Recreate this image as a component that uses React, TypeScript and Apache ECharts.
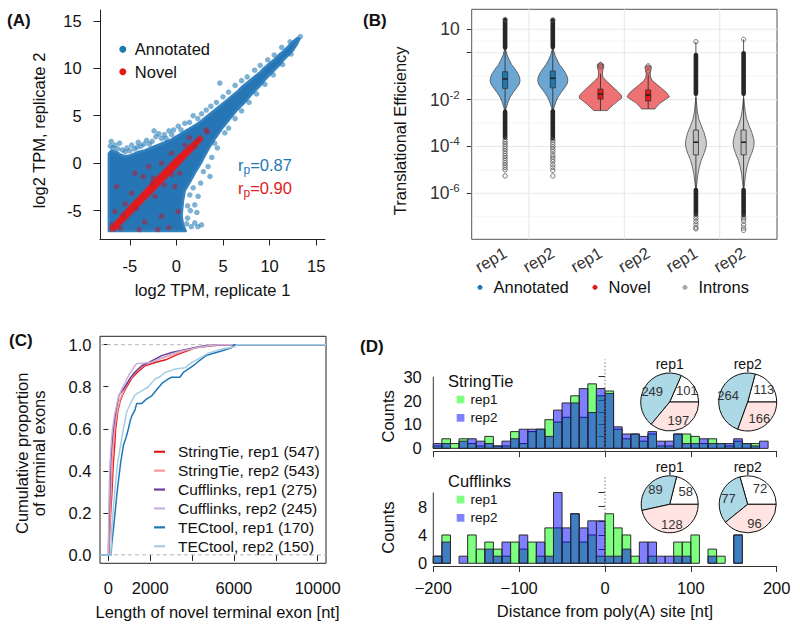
import React, { useEffect, useRef } from "react";
import * as echarts from "echarts";

const FONT = "'Liberation Sans', Arial, Helvetica, sans-serif";

// ================= Panel A : replicate scatter =================
const ticksA = [-5, 0, 5, 10, 15];
// outline of the dense cloud of annotated transcripts (log2 TPM rep1, rep2)
const annotatedCloud = [
  [-7.25, -7.15], [-7.25, 1.0], [-7.0, 1.3], [-6.5, 1.2], [-6.0, 0.9], [-5.5, 0.7], [-5.0, 0.8], [-4.5, 1.0],
  [-4.0, 1.2], [-3.5, 1.3], [-3.0, 1.5], [-2.5, 1.7], [-2.0, 1.9], [-1.5, 2.1], [-1.0, 2.3], [-0.5, 2.5],
  [0.0, 2.8], [0.5, 3.1], [1.0, 3.4], [1.5, 3.7], [2.0, 4.0], [2.5, 4.3], [3.0, 4.7], [3.5, 5.1], [4.0, 5.5],
  [4.5, 5.9], [5.0, 6.3], [5.5, 6.7], [6.0, 7.1], [6.5, 7.5], [7.0, 8.0], [7.5, 8.4], [8.0, 8.8], [8.5, 9.2],
  [9.0, 9.6], [9.5, 10.1], [10.0, 10.5], [10.5, 10.9], [11.0, 11.4], [11.5, 11.8], [12.0, 12.3], [12.5, 12.8],
  [13.0, 13.2], [13.2, 13.1], [12.9, 12.5], [12.5, 11.9], [12.0, 11.4], [11.5, 10.9], [11.0, 10.3], [10.5, 9.8],
  [10.0, 9.3], [9.5, 8.8], [9.0, 8.2], [8.5, 7.7], [8.0, 7.2], [7.5, 6.6], [7.0, 6.1], [6.5, 5.6], [6.0, 5.0],
  [5.5, 4.4], [5.0, 3.8], [4.5, 3.1], [4.0, 2.4], [3.5, 1.6], [3.0, 0.7], [2.5, -0.2], [2.0, -1.0], [1.5, -1.9],
  [0.9, -2.9], [0.7, -4.0], [0.55, -5.5], [0.7, -6.5], [1.0, -7.15],
];
// individual annotated transcripts outside the dense cloud
const annotatedPoints = [
  [-7.1, 1.8], [-7.0, 2.3], [-6.8, 1.6], [-6.6, 1.9], [-6.3, 1.5], [-6.1, 2.1], [-5.8, 1.4], [-5.5, 1.2],
  [-5.3, 1.6], [-5.0, 1.3], [-4.8, 1.9], [-4.5, 1.5], [-4.2, 1.7], [-4.1, 2.2], [-3.8, 1.8], [-3.5, 2.0],
  [-3.2, 2.4], [-2.9, 2.0], [-2.6, 2.3], [-2.4, 3.4], [-2.2, 2.8], [-1.9, 3.1], [-1.6, 2.6], [-1.3, 3.0],
  [-1.1, 2.6], [-0.8, 3.4], [-0.5, 3.0], [-0.3, 3.5], [0.2, 3.9], [0.5, 3.5], [0.9, 4.2], [1.4, 4.3],
  [1.8, 5.0], [2.3, 4.7], [2.7, 5.2], [3.2, 5.6], [3.7, 6.0], [4.3, 6.4], [4.66, 8.44], [5.0, 7.0],
  [5.6, 7.5], [6.3, 8.2], [7.0, 8.7], [7.6, 9.1], [8.4, 9.8], [9.0, 10.3], [9.8, 10.9], [10.5, 11.4],
  [11.3, 12.2], [12.2, 12.8], [13.3, 13.35], [12.3, 11.5], [11.4, 10.4], [10.4, 9.3], [9.5, 8.3], [8.6, 7.3],
  [7.8, 6.4], [7.0, 5.5], [6.3, 4.7], [5.6, 3.7], [5.2, 3.2], [4.4, 1.6], [4.1, 2.1], [3.8, 0.6],
  [3.4, -0.36], [3.6, -1.4], [2.9, -0.9], [2.6, -2.1], [2.33, -3.5], [1.44, -3.35], [1.97, -4.4], [1.5, -5.0],
  [2.2, -5.2], [1.2, -5.8], [1.97, -6.3], [2.7, -6.5], [2.3, -6.7], [1.6, -6.7], [1.2, -4.5], [1.8, -2.6],
  [1.1, -6.4],
];
// outline of the dense diagonal band of novel transcripts
const novelBand = [
  [-7.1, -6.8], [-6.0, -5.6], [-5.0, -4.5], [-4.0, -3.5], [-3.0, -2.45], [-2.0, -1.4], [-1.0, -0.4],
  [0.0, 0.6], [1.0, 1.5], [2.0, 2.4], [2.6, 2.9], [2.8, 2.5], [2.0, 1.6], [1.0, 0.6], [0.0, -0.5],
  [-1.0, -1.5], [-2.0, -2.5], [-3.0, -3.5], [-4.0, -4.5], [-5.0, -5.5], [-6.0, -6.5], [-6.6, -7.1], [-7.1, -7.1],
];
const novelPoints = [
  [-6.43, -2.47], [-6.6, -5.1], [-4.82, -3.16], [-4.46, -1.05], [-3.57, -1.41], [-2.5, -1.58], [-3.0, -0.36],
  [-5.72, -5.45], [-1.6, 0.0], [-0.53, 1.05], [0.18, -5.1], [-1.6, -5.6], [-3.4, -6.2], [1.97, 1.75],
  [2.3, 2.46], [3.2, 3.5], [3.3, 3.3], [-0.17, -2.47], [0.36, -1.05], [-2.3, -3.5], [-5.5, -4.3],
  [-6.0, -6.9], [-4.0, -7.0], [-2.0, -7.0], [-0.8, -6.8], [1.4, 2.7], [0.9, 1.9], [-0.5, -1.2],
  [-1.3, -2.3], [-4.3, -4.8], [-2.6, -2.1], [-6.9, -6.5],
];
const pearsonAnnotated = "0.87";
const pearsonNovel = "0.90";

// ================= Panel B : translational efficiency violins =================
const violinGroups = ["Annotated", "Novel", "Introns"];
const violinReps = ["rep1", "rep2"];
// profiles: [log10 TE, half width], per violin in order A-rep1, A-rep2, N-rep1, N-rep2, I-rep1, I-rep2
const violinProfiles = [
  [[0.22, 0], [0.1, 0.008], [-0.1, 0.021], [-0.3, 0.042], [-0.5, 0.068], [-0.7, 0.105], [-0.9, 0.136], [-1.05, 0.152], [-1.2, 0.157], [-1.35, 0.147], [-1.5, 0.12], [-1.7, 0.084], [-1.9, 0.052], [-2.1, 0.031], [-2.3, 0.016], [-2.52, 0]],
  [[0.24, 0], [0.1, 0.009], [-0.1, 0.022], [-0.3, 0.044], [-0.5, 0.07], [-0.7, 0.107], [-0.9, 0.138], [-1.05, 0.153], [-1.18, 0.158], [-1.35, 0.148], [-1.5, 0.122], [-1.7, 0.086], [-1.9, 0.054], [-2.1, 0.032], [-2.3, 0.016], [-2.5, 0]],
  [[-0.41, 0], [-0.5, 0.033], [-0.62, 0.034], [-0.75, 0.024], [-0.9, 0.02], [-1.05, 0.026], [-1.2, 0.06], [-1.35, 0.1], [-1.5, 0.14], [-1.66, 0.183], [-1.8, 0.215], [-1.92, 0.225], [-2.05, 0.185], [-2.2, 0.14], [-2.35, 0.1], [-2.47, 0.07], [-2.47, 0]],
  [[-0.52, 0], [-0.6, 0.035], [-0.72, 0.03], [-0.88, 0.02], [-1.05, 0.025], [-1.2, 0.045], [-1.35, 0.09], [-1.5, 0.135], [-1.69, 0.19], [-1.88, 0.223], [-2.0, 0.18], [-2.15, 0.125], [-2.3, 0.09], [-2.4, 0.07], [-2.4, 0]],
  [[-1.9, 0], [-2.2, 0.008], [-2.5, 0.015], [-2.8, 0.028], [-3.1, 0.055], [-3.4, 0.085], [-3.7, 0.105], [-3.87, 0.11], [-4.05, 0.105], [-4.3, 0.085], [-4.6, 0.055], [-4.9, 0.035], [-5.2, 0.02], [-5.5, 0.012], [-5.9, 0]],
  [[-1.9, 0], [-2.2, 0.008], [-2.5, 0.016], [-2.8, 0.03], [-3.1, 0.056], [-3.4, 0.086], [-3.7, 0.106], [-3.85, 0.11], [-4.05, 0.104], [-4.3, 0.084], [-4.6, 0.054], [-4.9, 0.034], [-5.2, 0.02], [-5.5, 0.012], [-5.9, 0]],
];
// [q1, median, q3] in log10 TE
const boxStats = [
  [-1.52, -1.12, -0.81], [-1.5, -1.09, -0.78], [-1.98, -1.77, -1.55],
  [-2.06, -1.8, -1.59], [-4.36, -3.82, -3.3], [-4.36, -3.82, -3.3],
];
// [lower whisker, upper whisker]
const whiskers = [[-2.52, 0.22], [-2.5, 0.24], [-2.47, -0.9], [-2.4, -0.95], [-5.86, -1.75], [-5.86, -1.75]];
// ranges densely packed with outliers
const denseOutliers = [
  [[0.22, 1.4], [-3.62, -2.52]], [[0.24, 1.38], [-3.65, -2.5]], [], [],
  [[-1.75, -0.1], [-6.9, -5.86]], [[-1.75, -0.02], [-6.93, -5.86]],
];
const outlierTrails = [[], [], [], [], [[-0.1, 0.47]], [[-0.02, 0.57]]];
const sparseOutliers = [
  [1.42, -3.7, -3.8, -3.9, -4.0, -4.1, -4.2, -4.3, -4.4, -4.5, -4.6, -4.7, -4.8, -4.9, -5.0, -5.26],
  [1.4, -3.72, -3.82, -3.92, -4.02, -4.12, -4.22, -4.35, -4.45, -4.55, -4.65, -4.78, -4.9, -5.02, -5.26],
  [-0.52, -0.6],
  [-0.56, -0.8],
  [0.47, -6.98, -7.08, -7.2, -7.32, -7.45, -7.52],
  [0.57, -7.0, -7.1, -7.2, -7.35, -7.48, -7.58],
];
const yTickExpB = [1, 0, -2, -4, -6];
const yLabelExpB = [1, -2, -4, -6];
const yMinorExpB = [0.5, -1, -3, -5, -7];

// ================= Panel C : ECDF of novel terminal exon length =================
const ecdfNames = [
  "StringTie, rep1 (547)", "StringTie, rep2 (543)", "Cufflinks, rep1 (275)",
  "Cufflinks, rep2 (245)", "TECtool, rep1 (170)", "TECtool, rep2 (150)",
];
const ecdfColors = ["#E31A1C", "#FB9A99", "#6A3D9A", "#CAB2D6", "#1F78B4", "#A6CEE3"];
const stringTieRep1Ecdf = [[-400, 0], [30, 0], [60, 0.1], [110, 0.2], [160, 0.28], [200, 0.36], [239, 0.44], [300, 0.52], [350, 0.6], [446, 0.68], [560, 0.73], [670, 0.76], [876, 0.8], [1115, 0.84], [1402, 0.87], [1752, 0.9], [2230, 0.915], [2788, 0.93], [3345, 0.955], [3743, 0.97], [4142, 0.985], [4938, 0.995], [5600, 1], [10400, 1]];
const stringTieRep2Ecdf = [[-400, 0], [20, 0], [50, 0.1], [90, 0.2], [130, 0.3], [190, 0.44], [260, 0.55], [330, 0.62], [420, 0.68], [560, 0.74], [780, 0.79], [1000, 0.83], [1300, 0.87], [1650, 0.9], [2100, 0.92], [2700, 0.94], [3300, 0.96], [3900, 0.98], [4600, 0.995], [5400, 1], [10400, 1]];
const cufflinksRep1Ecdf = [[-400, 0], [0, 0], [30, 0.15], [64, 0.28], [110, 0.44], [170, 0.53], [239, 0.6], [350, 0.68], [510, 0.76], [650, 0.78], [796, 0.8], [1035, 0.84], [1274, 0.87], [1593, 0.9], [1912, 0.915], [2549, 0.948], [3027, 0.963], [3823, 0.98], [4620, 0.995], [5416, 1], [10400, 1]];
const cufflinksRep2Ecdf = [[-400, 0], [0, 0], [20, 0.2], [50, 0.35], [80, 0.44], [150, 0.55], [200, 0.6], [300, 0.67], [450, 0.74], [600, 0.78], [800, 0.82], [1000, 0.86], [1274, 0.9], [1350, 0.91], [2000, 0.915], [2500, 0.935], [3000, 0.955], [3500, 0.97], [4200, 0.985], [4800, 0.995], [5300, 1], [10400, 1]];
const tectoolRep1Ecdf = [[-400, 0], [130, 0], [160, 0.05], [239, 0.12], [320, 0.2], [398, 0.28], [490, 0.36], [589, 0.44], [716, 0.52], [850, 0.56], [956, 0.6], [1050, 0.64], [1115, 0.66], [1274, 0.69], [1350, 0.72], [1593, 0.72], [1800, 0.74], [2071, 0.757], [2389, 0.795], [2600, 0.82], [2867, 0.837], [3000, 0.845], [3420, 0.845], [3600, 0.87], [4060, 0.9], [4300, 0.92], [4700, 0.95], [5400, 0.97], [5880, 0.985], [6000, 1], [10400, 1]];
const tectoolRep2Ecdf = [[-400, 0], [120, 0], [159, 0.12], [220, 0.2], [287, 0.28], [360, 0.36], [446, 0.44], [580, 0.52], [716, 0.6], [876, 0.68], [1050, 0.72], [1243, 0.757], [1400, 0.77], [1593, 0.78], [1912, 0.8], [2230, 0.837], [2500, 0.85], [2708, 0.868], [3186, 0.884], [3664, 0.89], [3983, 0.916], [4301, 0.932], [4779, 0.96], [5416, 0.98], [6053, 0.99], [6133, 1], [10400, 1]];
const ecdfData = [stringTieRep1Ecdf, stringTieRep2Ecdf, cufflinksRep1Ecdf, cufflinksRep2Ecdf, tectoolRep1Ecdf, tectoolRep2Ecdf];
const ticksCx = [0, 2000, 4000, 6000, 8000, 10000];
const labelsCx = [0, 2000, 6000, 10000];
const ticksCy = [0, 0.2, 0.4, 0.6, 0.8, 1.0];

// ================= Panel D : distance to poly(A) sites =================
const binStarts = [-200, -190, -180, -170, -160, -150, -140, -130, -120, -110, -100, -90, -80, -70, -60, -50, -40, -30, -20, -10, 0, 10, 20, 30, 40, 50, 60, 70, 80, 90, 100, 110, 120, 130, 140, 150, 160, 170, 180, 190];
const binWidth = 10;
const stringTieRep1Counts = [1, 4, 2, 4, 2, 1, 5, 1, 1, 7, 2, 7, 8, 12, 11, 13, 22, 13, 27, 22, 24, 8, 4, 6, 3, 6, 1, 1, 6, 6, 5, 2, 4, 2, 1, 3, 2, 2, 0, 0];
const stringTieRep2Counts = [2, 2, 0, 3, 4, 3, 2, 1, 3, 4, 8, 8, 8, 5, 16, 19, 19, 25, 15, 25, 23, 9, 6, 6, 5, 7, 3, 3, 6, 2, 2, 4, 2, 2, 2, 4, 2, 1, 3, 0];
const cufflinksRep1Counts = [1, 4, 0, 0, 4, 2, 3, 2, 1, 3, 2, 3, 1, 5, 5, 3, 7, 3, 4, 1, 7, 5, 4, 1, 0, 1, 0, 0, 3, 3, 4, 0, 2, 1, 0, 4, 0, 0, 0, 0];
const cufflinksRep2Counts = [1, 3, 0, 1, 0, 0, 2, 1, 3, 0, 4, 0, 3, 1, 10, 5, 7, 5, 6, 6, 1, 1, 2, 0, 3, 3, 1, 1, 1, 1, 0, 0, 1, 0, 0, 4, 0, 0, 0, 0];
const ticksDx = [-200, -100, 0, 100, 200];
const ticksDyTop = [0, 5, 10, 15, 20, 25, 30];
const labelsDyTop = [0, 10, 20, 30];
const ticksDyBottom = [0, 2, 4, 6, 8, 10];
const labelsDyBottom = [0, 4, 8];
const pieSliceNames = ["white", "light blue", "pink"];
const pieSliceColors = ["#FFFFFF", "#ADD8E6", "#FFE4E1"];
const pieStringTieRep1 = [101, 249, 197];
const pieStringTieRep2 = [113, 264, 166];
const pieCufflinksRep1 = [58, 89, 128];
const pieCufflinksRep2 = [72, 77, 96];

// ---------------------------------------------------------------
const AX = { xA: 0, xB: 1, xC: 2, xDt: 3, xDb: 4 };
const extA = { xmin: -8.2, xmax: 15.95, ymin: -8.0, ymax: 16.15 };
const extB = { xmin: 0.4, xmax: 3.6, ymin: -7.963, ymax: 1.854 };
const extC = { xmin: -400, xmax: 10400, ymin: -0.04, ymax: 1.04 };
const extDt = { ymin: -1.2, ymax: 37.2 };
const extDb = { ymin: -0.4, ymax: 12.34 };

const violinX = [0.75, 1.25, 1.75, 2.25, 2.75, 3.25];
const violinFill = ["#6CA6D2", "#EE7173", "#CCCCCC"];
const boxFill = ["#1F78B4", "#E41A1C", "#BDBDBD"];
const boxHalf = 0.027;

function segmentSeries(name: string, axis: number, segs: number[][], style: any, z: number) {
  return {
    type: "custom", name, xAxisIndex: axis, yAxisIndex: axis, silent: true, z,
    data: segs,
    renderItem: (_p: any, api: any) => {
      const a = api.coord([api.value(0), api.value(1)]);
      const b = api.coord([api.value(2), api.value(3)]);
      return { type: "line", shape: { x1: a[0], y1: a[1], x2: b[0], y2: b[1] }, style };
    },
  };
}

function polygonSeries(name: string, axis: number, pts: number[][], style: any, z: number) {
  return {
    type: "custom", name, xAxisIndex: axis, yAxisIndex: axis, silent: true, z,
    data: pts,
    renderItem: (p: any, api: any) => {
      if (p.dataIndex !== 0) return null;
      return { type: "polygon", shape: { points: pts.map((q) => api.coord(q)) }, style };
    },
  };
}

function violinSeries(g: number) {
  const idxs = [g * 2, g * 2 + 1];
  return {
    type: "custom", name: violinGroups[g], xAxisIndex: AX.xB, yAxisIndex: AX.xB, silent: true, z: 3,
    data: idxs.map((i) => [violinX[i], boxStats[i][1]]),
    renderItem: (p: any, api: any) => {
      const i = idxs[p.dataIndex];
      const cx = violinX[i];
      const prof = violinProfiles[i];
      const right = prof.map(([e, w]) => api.coord([cx + w, e]));
      const left = prof.slice().reverse().map(([e, w]) => api.coord([cx - w, e]));
      const ch: any[] = [];
      ch.push({ type: "polygon", shape: { points: right.concat(left) }, style: { fill: violinFill[g], stroke: "#4a4a4a", lineWidth: 0.8 } });
      const w1 = api.coord([cx, whiskers[i][1]]);
      const w2 = api.coord([cx, whiskers[i][0]]);
      ch.push({ type: "line", shape: { x1: w1[0], y1: w1[1], x2: w2[0], y2: w2[1] }, style: { stroke: "#333", lineWidth: 0.9 } });
      outlierTrails[i].forEach(([a, b]) => {
        const t1 = api.coord([cx, b]);
        const t2 = api.coord([cx, a]);
        ch.push({ type: "line", shape: { x1: t1[0], y1: t1[1], x2: t2[0], y2: t2[1] }, style: { stroke: "#555", lineWidth: 1 } });
      });
      denseOutliers[i].forEach(([a, b]) => {
        const pa = api.coord([cx, b]);
        const pb = api.coord([cx, a]);
        ch.push({ type: "rect", shape: { x: pa[0] - 2.3, y: pa[1] - 2.3, width: 4.6, height: pb[1] - pa[1] + 4.6, r: 2.3 }, style: { fill: "#262626" } });
      });
      const b1 = api.coord([cx - boxHalf, boxStats[i][2]]);
      const b2 = api.coord([cx + boxHalf, boxStats[i][0]]);
      ch.push({ type: "rect", shape: { x: b1[0], y: b1[1], width: b2[0] - b1[0], height: b2[1] - b1[1] }, style: { fill: boxFill[g], stroke: "#333", lineWidth: 0.8 } });
      const m1 = api.coord([cx - boxHalf, boxStats[i][1]]);
      const m2 = api.coord([cx + boxHalf, boxStats[i][1]]);
      ch.push({ type: "line", shape: { x1: m1[0], y1: m1[1], x2: m2[0], y2: m2[1] }, style: { stroke: "#222", lineWidth: 1.6 } });
      sparseOutliers[i].forEach((e) => {
        const c = api.coord([cx, e]);
        ch.push({ type: "circle", shape: { cx: c[0], cy: c[1], r: 2.2 }, style: { fill: "rgba(255,255,255,0)", stroke: "#555", lineWidth: 0.8 } });
      });
      return { type: "group", children: ch };
    },
  };
}

function histSeries(name: string, axis: number, counts: number[], fill: string, z: number) {
  return {
    type: "custom", name, xAxisIndex: axis, yAxisIndex: axis, silent: true, z,
    data: binStarts.map((b, k) => [b, counts[k]]),
    renderItem: (_p: any, api: any) => {
      const x0 = api.value(0);
      const c = api.value(1);
      if (!c) return null;
      const p0 = api.coord([x0, c]);
      const p1 = api.coord([x0 + binWidth, 0]);
      return { type: "rect", shape: { x: p0[0], y: p0[1], width: p1[0] - p0[0], height: p1[1] - p0[1] }, style: { fill, stroke: "#2b2b2b", lineWidth: 1 } };
    },
  };
}

function pieSeries(label: string, values: number[], center: number[], r: number) {
  const base = {
    type: "pie", name: label, center, radius: r, startAngle: 0, clockwise: false, silent: true, z: 5,
    label: { show: false }, labelLine: { show: false }, emphasis: { disabled: true },
    itemStyle: { borderColor: "#111", borderWidth: 1 },
    data: values.map((v, k) => ({ value: v, name: label + " " + pieSliceNames[k], itemStyle: { color: pieSliceColors[k] } })),
  };
  const overlay = {
    type: "pie", name: label + " labels", center, radius: [6, r], startAngle: 0, clockwise: false, silent: true, z: 6,
    labelLine: { show: false }, emphasis: { disabled: true },
    itemStyle: { color: "rgba(0,0,0,0)", borderWidth: 0 },
    label: { show: true, position: "inside", formatter: "{c}", fontSize: 13, color: "#333", fontFamily: FONT },
    data: values.map((v, k) => ({ value: v, name: label + " " + pieSliceNames[k] })),
  };
  return [base, overlay];
}

function txt(text: string, x: number, y: number, size: number, opts: any = {}) {
  return {
    type: "text", x, y, silent: true, z: 50,
    style: {
      text, fill: opts.fill || "#111", fontSize: size, fontFamily: FONT, fontWeight: opts.bold ? "bold" : "normal",
      align: opts.align || "left", verticalAlign: "middle", textAlign: opts.align || "left", textVerticalAlign: "middle",
      rich: opts.rich,
    },
  };
}

function buildOption(): any {
  const lab = { fontSize: 16.5, color: "#111", fontFamily: FONT };
  const tickStyle = { color: "#222", width: 1 };
  const axisBase = { splitLine: { show: false }, nameMoveOverlap: false };

  const xAxis = [
    { ...axisBase, gridIndex: 0, type: "value", min: extA.xmin, max: extA.xmax,
      axisLine: { show: true, onZero: false, lineStyle: tickStyle },
      axisTick: { show: true, customValues: ticksA, length: 6.5, lineStyle: tickStyle },
      axisLabel: { customValues: ticksA, margin: 18.5, ...lab },
      name: "log2 TPM, replicate 1", nameLocation: "middle", nameGap: 42, nameTextStyle: lab },
    { ...axisBase, gridIndex: 1, type: "value", min: extB.xmin, max: extB.xmax,
      axisLine: { show: false }, axisTick: { show: false },
      axisLabel: { customValues: violinX, rotate: 30, margin: 12, ...lab, color: "#333",
        formatter: (v: number) => { const i = violinX.findIndex((x) => Math.abs(x - v) < 1e-6); return violinReps[i % 2]; } } },
    { ...axisBase, gridIndex: 2, type: "value", min: extC.xmin, max: extC.xmax,
      axisLine: { show: false },
      axisTick: { show: true, customValues: ticksCx, length: 6, lineStyle: tickStyle },
      axisLabel: { customValues: labelsCx, margin: 16, ...lab, formatter: (v: number) => String(v) },
      name: "Length of novel terminal exon [nt]", nameLocation: "middle", nameGap: 40,
      nameTextStyle: { ...lab, padding: [0, 0, 0, 9] } },
    { ...axisBase, gridIndex: 3, type: "value", min: -200, max: 200,
      axisLine: { show: true, onZero: false, lineStyle: { color: "#333" } },
      axisTick: { show: true, customValues: ticksDx, length: 6, lineStyle: { color: "#333" } },
      axisLabel: { show: false } },
    { ...axisBase, gridIndex: 4, type: "value", min: -200, max: 200,
      axisLine: { show: true, onZero: false, lineStyle: { color: "#333" } },
      axisTick: { show: true, customValues: ticksDx, length: 6, lineStyle: { color: "#333" } },
      axisLabel: { customValues: ticksDx, margin: 13, ...lab, formatter: (v: number) => (v < 0 ? "\u2212" + Math.abs(v) : String(v)) },
      name: "Distance from poly(A) site [nt]", nameLocation: "middle", nameGap: 36, nameTextStyle: lab },
  ];

  const yAxis = [
    { ...axisBase, gridIndex: 0, type: "value", min: extA.ymin, max: extA.ymax,
      axisLine: { show: true, onZero: false, lineStyle: tickStyle },
      axisTick: { show: true, customValues: ticksA, length: 6.5, lineStyle: tickStyle },
      axisLabel: { customValues: ticksA, margin: 18.3, ...lab },
      name: "log2 TPM, replicate 2", nameLocation: "middle", nameGap: 53, nameTextStyle: { ...lab, padding: [0, 12, 0, 0] } },
    { ...axisBase, gridIndex: 1, type: "value", min: extB.ymin, max: extB.ymax,
      axisLine: { show: false },
      axisTick: { show: true, customValues: yTickExpB, length: 5, lineStyle: { color: "#333" } },
      axisLabel: { customValues: yLabelExpB, margin: 12,
        formatter: (v: number) => { const e = Math.round(v); return e === 1 ? "{m|10}" : "{m|10}{s|" + e + "}"; },
        rich: { m: { fontSize: 17.5, color: "#333", fontFamily: FONT, lineHeight: 22 },
                s: { fontSize: 11.5, color: "#333", fontFamily: FONT, lineHeight: 12, verticalAlign: "top" } } },
      name: "Translational Efficiency", nameLocation: "middle", nameGap: 63, nameTextStyle: { ...lab, padding: [0, 13, 0, 0] } },
    { ...axisBase, gridIndex: 2, type: "value", min: extC.ymin, max: extC.ymax,
      axisLine: { show: false },
      axisTick: { show: true, customValues: ticksCy, length: 5, lineStyle: tickStyle },
      axisLabel: { customValues: ticksCy, margin: 8.5, ...lab, formatter: (v: number) => v.toFixed(1) },
      name: "Cumulative proportion\nof terminal exons", nameLocation: "middle", nameGap: 52,
      nameTextStyle: { ...lab, lineHeight: 17.6, padding: [0, 7, 0, 0] } },
    { ...axisBase, gridIndex: 3, type: "value", min: extDt.ymin, max: extDt.ymax,
      axisLine: { show: false },
      axisTick: { show: true, customValues: ticksDyTop, length: 6.5, lineStyle: { color: "#333" } },
      axisLabel: { customValues: labelsDyTop, margin: 11.5, ...lab },
      name: "Counts", nameLocation: "middle", nameGap: 36.5, nameTextStyle: { ...lab, padding: [0, 22, 0, 0] } },
    { ...axisBase, gridIndex: 4, type: "value", min: extDb.ymin, max: extDb.ymax,
      axisLine: { show: false },
      axisTick: { show: true, customValues: ticksDyBottom, length: 6.5, lineStyle: { color: "#333" } },
      axisLabel: { customValues: labelsDyBottom, margin: 6, ...lab },
      name: "Counts", nameLocation: "middle", nameGap: 36.5, nameTextStyle: { ...lab, padding: [0, 13, 0, 0] } },
  ];

  const grid = [
    { left: 100, top: 10, width: 225, height: 229, outerBoundsMode: "none" },
    { left: 471.7, top: 9.3, width: 305.3, height: 230, show: true, borderColor: "#555", borderWidth: 1, backgroundColor: "rgba(0,0,0,0)", outerBoundsMode: "none" },
    { left: 100, top: 336.3, width: 226, height: 227, show: true, borderColor: "#222", borderWidth: 1, backgroundColor: "rgba(0,0,0,0)", outerBoundsMode: "none" },
    { left: 433.3, top: 359.5, width: 343.4, height: 91.7, outerBoundsMode: "none" },
    { left: 433.3, top: 476, width: 343.4, height: 90.1, outerBoundsMode: "none" },
  ];

  const series: any[] = [];
  // ---- A
  series.push(polygonSeries("Annotated", AX.xA, annotatedCloud, { fill: "#2676B6", stroke: "#3382C0", lineWidth: 2.5, lineJoin: "round" }, 2));
  series.push({ type: "scatter", name: "Annotated", xAxisIndex: 0, yAxisIndex: 0, silent: true, z: 3, symbolSize: 5.5,
    itemStyle: { color: "rgba(31,120,180,0.72)" }, data: annotatedPoints });
  series.push(polygonSeries("Novel", AX.xA, novelBand, { fill: "#E31A1C", stroke: "rgba(227,26,28,0.6)", lineWidth: 2, lineJoin: "round" }, 4));
  series.push({ type: "scatter", name: "Novel", xAxisIndex: 0, yAxisIndex: 0, silent: true, z: 5, symbolSize: 5.5,
    itemStyle: { color: "rgba(170,35,60,0.72)" }, data: novelPoints });
  // ---- B
  series.push(segmentSeries("minor grid", AX.xB, yMinorExpB.map((e) => [extB.xmin, e, extB.xmax, e]), { stroke: "#F0F0F0", lineWidth: 0.7 }, 1));
  series.push(segmentSeries("major grid", AX.xB, yTickExpB.map((e) => [extB.xmin, e, extB.xmax, e]).concat([1, 2, 3].map((g) => [g, extB.ymin, g, extB.ymax])), { stroke: "#E8E8E8", lineWidth: 1.1 }, 1));
  for (let g = 0; g < 3; g++) series.push(violinSeries(g));
  // ---- C
  series.push(segmentSeries("reference", AX.xC, [[extC.xmin, 0, extC.xmax, 0], [extC.xmin, 1, extC.xmax, 1]], { stroke: "#B5B5B5", lineWidth: 1, lineDash: [4, 3] }, 1));
  ecdfNames.forEach((n, k) => {
    series.push({ type: "line", name: n, xAxisIndex: 2, yAxisIndex: 2, silent: true, z: 3 + k, data: ecdfData[k],
      symbol: "none", showSymbol: false, lineStyle: { color: ecdfColors[k], width: 1.5 }, itemStyle: { color: ecdfColors[k] } });
  });
  // ---- D
  series.push(histSeries("rep1", AX.xDt, stringTieRep1Counts, "rgba(0,255,0,0.5)", 2));
  series.push(histSeries("rep2", AX.xDt, stringTieRep2Counts, "rgba(0,0,255,0.5)", 3));
  series.push(segmentSeries("axis top", AX.xDt, [[-200, 0, -200, 30]], { stroke: "#333", lineWidth: 1 }, 4));
  series.push(segmentSeries("site top", AX.xDt, [[0, extDt.ymin, 0, extDt.ymax]], { stroke: "#777", lineWidth: 1, lineDash: [1.5, 2] }, 4));
  series.push(histSeries("rep1", AX.xDb, cufflinksRep1Counts, "rgba(0,255,0,0.5)", 2));
  series.push(histSeries("rep2", AX.xDb, cufflinksRep2Counts, "rgba(0,0,255,0.5)", 3));
  series.push(segmentSeries("axis bottom", AX.xDb, [[-200, 0, -200, 10]], { stroke: "#333", lineWidth: 1 }, 4));
  series.push(segmentSeries("site bottom", AX.xDb, [[0, extDb.ymin, 0, extDb.ymax]], { stroke: "#777", lineWidth: 1, lineDash: [1.5, 2] }, 4));
  series.push(...pieSeries("StringTie rep1", pieStringTieRep1, [669.7, 402], 29));
  series.push(...pieSeries("StringTie rep2", pieStringTieRep2, [747.7, 402], 29));
  series.push(...pieSeries("Cufflinks rep1", pieCufflinksRep1, [669.7, 504.3], 28.5));
  series.push(...pieSeries("Cufflinks rep2", pieCufflinksRep2, [747.7, 504.3], 28.5));

  const legendText = (size: number, lh: number, padLeft: number) => ({ fontSize: size, fontFamily: FONT, color: "#111", lineHeight: lh, padding: [0, 0, 0, padLeft] });
  const legend = [
    { left: 119.3, top: 38.1, orient: "vertical", padding: 0, itemGap: 0, itemWidth: 7, itemHeight: 7, selectedMode: false,
      textStyle: legendText(16.5, 22.4, 3.5),
      data: [{ name: "Annotated", icon: "circle", itemStyle: { color: "#1F78B4", opacity: 1, borderWidth: 0 } },
             { name: "Novel", icon: "circle", itemStyle: { color: "#E31A1C", opacity: 1, borderWidth: 0 } }] },
    ...violinGroups.map((gname, g) => ({
      left: [477.5, 592.5, 682.5][g], top: 276.3, orient: "horizontal", padding: 0, itemWidth: 5, itemHeight: 5, selectedMode: false,
      textStyle: legendText(16.5, 22, 6),
      data: [{ name: gname, icon: "circle", itemStyle: { color: ["#1F78B4", "#E31A1C", "#A8A8A8"][g], opacity: 1, borderWidth: 0 } }],
    })),
    { left: 154, top: 442.3, orient: "vertical", padding: 0, itemGap: 0, itemWidth: 11, itemHeight: 2.2, selectedMode: false,
      textStyle: legendText(15.5, 18.9, 8),
      data: ecdfNames.map((n, k) => ({ name: n, icon: "rect", itemStyle: { color: ecdfColors[k], borderWidth: 0 } })) },
    { left: 456.7, top: 390.4, orient: "vertical", padding: 0, itemGap: 0, itemWidth: 7.7, itemHeight: 7.7, selectedMode: false,
      textStyle: legendText(13.5, 18.3, 1),
      data: [{ name: "rep1", icon: "rect", itemStyle: { color: "#80FF80", borderWidth: 0 } }, { name: "rep2", icon: "rect", itemStyle: { color: "#8080FF", borderWidth: 0 } }] },
    { left: 456.7, top: 490.4, orient: "vertical", padding: 0, itemGap: 0, itemWidth: 7.7, itemHeight: 7.7, selectedMode: false,
      textStyle: legendText(13.5, 18.3, 1),
      data: [{ name: "rep1", icon: "rect", itemStyle: { color: "#80FF80", borderWidth: 0 } }, { name: "rep2", icon: "rect", itemStyle: { color: "#8080FF", borderWidth: 0 } }] },
  ];

  const rpRich = (col: string) => ({
    r: { fontSize: 16.5, fontFamily: FONT, fill: col, color: col },
    p: { fontSize: 12, fontFamily: FONT, fill: col, color: col, padding: [9, 0, 0, 0], verticalAlign: "bottom" },
  });

  const graphic = [
    txt("(A)", 7, 20, 17, { bold: true }),
    txt("(B)", 363, 20, 17, { bold: true }),
    txt("(C)", 9, 340, 17, { bold: true }),
    txt("(D)", 360, 346, 17, { bold: true }),
    txt("{r|r}{p|p}{r|=" + pearsonAnnotated + "}", 238, 165, 16.5, { fill: "#1F78B4", rich: rpRich("#1F78B4") }),
    txt("{r|r}{p|p}{r|=" + pearsonNovel + "}", 238, 188, 16.5, { fill: "#E31A1C", rich: rpRich("#E31A1C") }),
    txt("StringTie", 448, 381, 16.5),
    txt("Cufflinks", 448, 481, 16.5),
    txt("rep1", 669.7, 363.5, 14, { align: "center" }),
    txt("rep2", 747.7, 363.5, 14, { align: "center" }),
    txt("rep1", 669.7, 467, 14, { align: "center" }),
    txt("rep2", 747.7, 467, 14, { align: "center" }),
  ];

  return {
    animation: false,
    backgroundColor: "#ffffff",
    textStyle: { fontFamily: FONT },
    tooltip: { show: false },
    grid, xAxis, yAxis, series, legend, graphic,
  };
}

export default function App() {
  const ref = useRef<HTMLDivElement>(null);
  useEffect(() => {
    if (!ref.current) return;
    const chart = echarts.init(ref.current, null, { renderer: "svg" });
    chart.setOption(buildOption());
    return () => chart.dispose();
  }, []);
  return <div ref={ref} style={{ position: "absolute", left: 0, top: 0, width: 800, height: 630, background: "#fff" }} />;
}
